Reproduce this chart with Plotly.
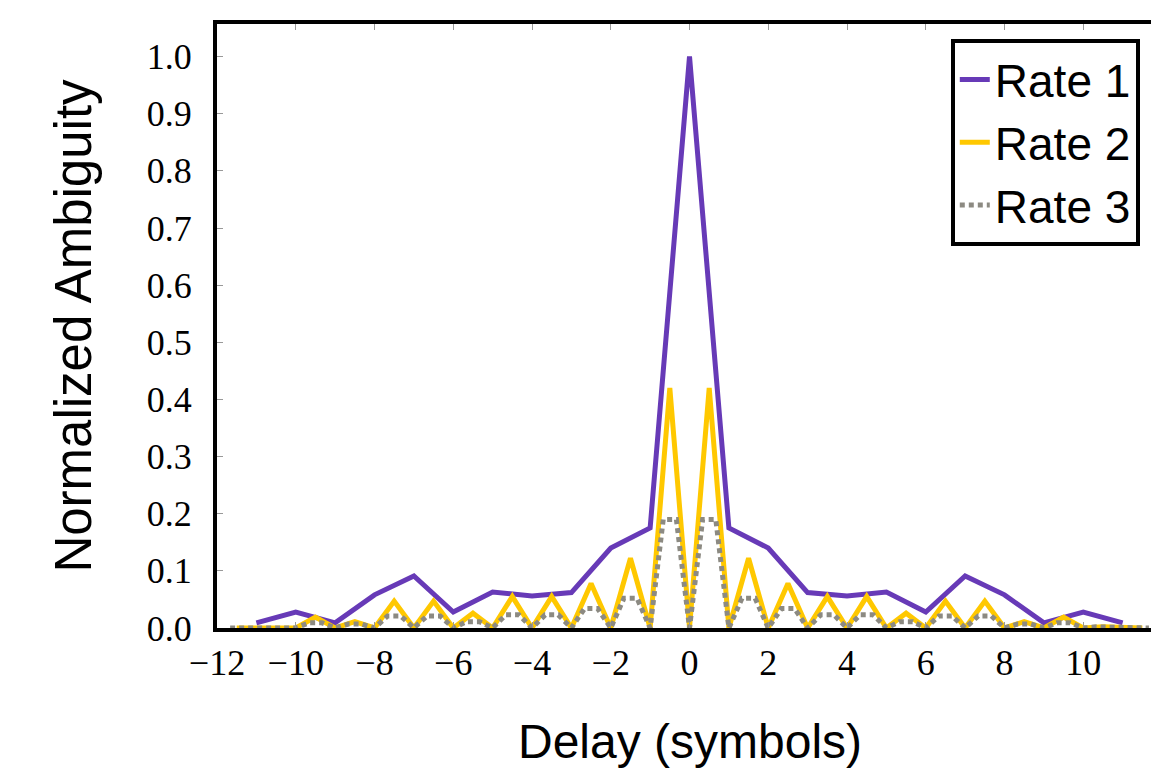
import plotly.graph_objects as go

# ---- data ----
rate1_x = list(range(-11, 12))
rate1_half = [0.009, 0.028, 0.009, 0.058, 0.091, 0.028, 0.063, 0.056, 0.062, 0.140, 0.175]
rate1_y = rate1_half + [1.0] + rate1_half[::-1]

# Rate 2: sampled every half symbol, -11.5 .. 11.5
rate2_x = [i / 2 for i in range(-23, 24)]
rate2_half = [0.0, 0.0,            # -11.5, -11
              0.002, 0.0,          # -10.5, -10
              0.019, 0.0,          # -9.5, -9
              0.011, 0.0,          # -8.5, -8
              0.047, 0.0,          # -7.5, -7
              0.047, 0.0,          # -6.5, -6
              0.026, 0.0,          # -5.5, -5
              0.055, 0.0,          # -4.5, -4
              0.055, 0.0,          # -3.5, -3
              0.078, 0.0,          # -2.5, -2
              0.122, 0.0,          # -1.5, -1
              0.420]               # -0.5
rate2_y = rate2_half + [0.0] + rate2_half[::-1]

# Rate 3: sampled every third of a symbol, -35/3 .. 35/3
rate3_x = [i / 3 for i in range(-35, 36)]
rate3_half = [0.0, 0.0, 0.0,          # -11.67, -11.33, -11
              0.002, 0.002, 0.0,      # -10.67, -10.33, -10
              0.009, 0.009, 0.0,      # -9.67 .. -9
              0.007, 0.007, 0.0,      # -8.67 .. -8
              0.021, 0.021, 0.0,      # -7.67 .. -7
              0.021, 0.021, 0.0,      # -6.67 .. -6
              0.011, 0.011, 0.0,      # -5.67 .. -5
              0.023, 0.023, 0.0,      # -4.67 .. -4
              0.023, 0.023, 0.0,      # -3.67 .. -3
              0.034, 0.034, 0.0,      # -2.67 .. -2
              0.052, 0.052, 0.0,      # -1.67 .. -1
              0.190, 0.190]           # -0.67, -0.33
rate3_y = rate3_half + [0.0] + rate3_half[::-1]

x_ticks = list(range(-12, 13, 2))
y_ticks = [i / 10 for i in range(0, 11)]

PURPLE = "#673AB7"
YELLOW = "#FFC800"
GRAY = "#8C8A82"
SANS = "Liberation Sans, Arial, Helvetica, sans-serif"
SERIF = "Liberation Serif, Times New Roman, serif"

fig = go.Figure()
fig.add_trace(go.Scatter(x=rate1_x, y=rate1_y, mode="lines", name="Rate 1",
                         line=dict(color=PURPLE, width=5)))
fig.add_trace(go.Scatter(x=rate2_x, y=rate2_y, mode="lines", name="Rate 2",
                         line=dict(color=YELLOW, width=5)))
fig.add_trace(go.Scatter(x=rate3_x, y=rate3_y, mode="lines", name="Rate 3",
                         line=dict(color=GRAY, width=5, dash="5px,4px")))

tickfont = dict(family=SERIF, size=36, color="black")

fig.update_layout(
    width=1151, height=773,
    margin=dict(l=217, r=0, t=24, b=145),
    paper_bgcolor="white", plot_bgcolor="white",
    font=dict(family=SANS, color="black"),
    showlegend=True,
    legend=dict(
        x=0.988, xanchor="right", y=0.975, yanchor="top",
        font=dict(family=SANS, size=46, color="black"),
        bgcolor="white", bordercolor="black", borderwidth=4,
        itemwidth=30, tracegroupgap=0,
    ),
    annotations=[
        dict(text="Delay (symbols)", x=0, xref="x", xanchor="center",
             y=-0.1887, yref="paper", yanchor="middle", showarrow=False,
             font=dict(family=SANS, size=48, color="black")),
    ],
)

fig.update_xaxes(
    range=[-12, 11.72], tickvals=x_ticks,
    ticktext=[("−" + str(-v)) if v < 0 else str(v) for v in x_ticks],
    showgrid=False, zeroline=False, automargin=False,
    showline=True, linecolor="black", linewidth=4, mirror="ticks",
    ticks="inside", ticklen=6, tickcolor="#999999", tickwidth=1,
    tickfont=tickfont, ticklabelstandoff=0,
)
fig.update_yaxes(
    range=[0, 1.057], tickvals=y_ticks, ticktext=[f"{v:.1f}" for v in y_ticks],
    showgrid=False, zeroline=False, automargin=False,
    showline=True, linecolor="black", linewidth=4,
    ticks="inside", ticklen=6, tickcolor="#999999", tickwidth=1,
    tickfont=tickfont, ticklabelstandoff=14,
    title=dict(text="Normalized Ambiguity", standoff=40,
               font=dict(family=SANS, size=51, color="black")),
)

fig.write_html("out.html", config={"displayModeBar": False},
               post_script="document.body.style.margin='0';")
